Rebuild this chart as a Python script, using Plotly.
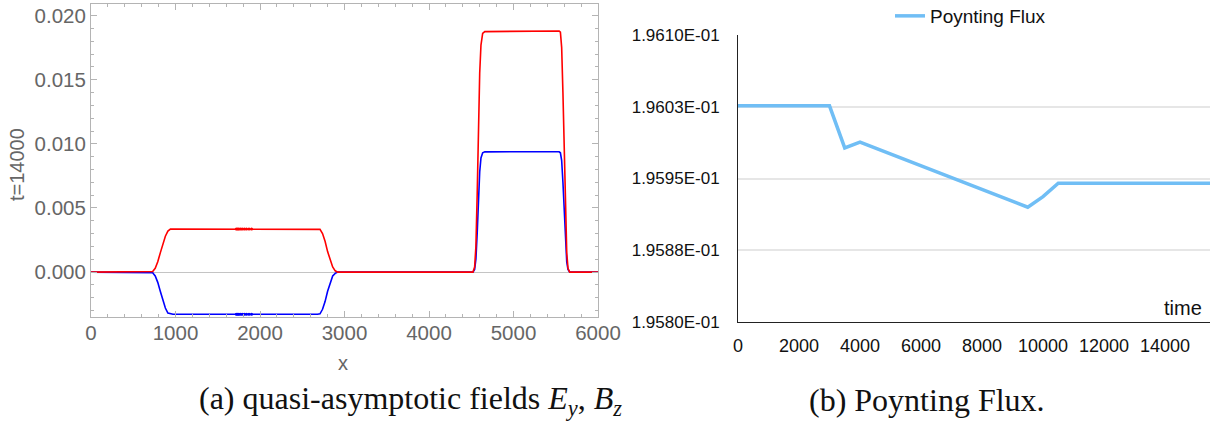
import plotly.graph_objects as go

# ---------------- Left panel data (quasi-asymptotic fields at t=14000) ----------------
x_pos = [0, 700, 730, 760, 790, 820, 850, 880, 910, 940, 970,
         2680, 2710, 2740, 2770, 2800, 2830, 2860, 2890, 2920, 2960,
         4520, 4540, 4555, 4570, 4585, 4600, 4615, 4635, 4660, 4700,
         5540, 5555, 5570, 5585, 5600, 5615, 5630, 5645, 5665, 6000]
ey_vals = [0, 0, 0.00005, 0.0003, 0.0008, 0.0015, 0.0022, 0.0028, 0.0032, 0.00335, 0.00336,
           0.00336, 0.00333, 0.0030, 0.0024, 0.0016, 0.0009, 0.0004, 0.0001, 0.0, 0.0,
           0.0, 0.0004, 0.002, 0.006, 0.011, 0.0155, 0.0177, 0.0186, 0.01875, 0.01875,
           0.0188, 0.0187, 0.0175, 0.014, 0.009, 0.0045, 0.0015, 0.0003, 0.0, 0.0]
bz_vals = [0, 0, -0.00005, -0.0003, -0.0008, -0.0015, -0.0022, -0.0028, -0.0032, -0.00327, -0.00328,
           -0.00328, -0.00325, -0.0029, -0.0023, -0.0015, -0.0008, -0.0003, -0.0001, 0.0, 0.0,
           0.0, 0.0002, 0.001, 0.003, 0.0055, 0.0078, 0.0089, 0.0093, 0.009375, 0.009375,
           0.00938, 0.0093, 0.0087, 0.007, 0.0045, 0.0022, 0.0008, 0.0002, 0.0, 0.0]
glitch_x = [1720, 1735, 1750, 1770, 1790, 1815, 1840, 1870, 1900]
glitch_ey = [0.00336] * 9
glitch_bz = [-0.00328] * 9
field_xticks = [0, 1000, 2000, 3000, 4000, 5000, 6000]
field_yticks = [0.0, 0.005, 0.010, 0.015, 0.020]
field_yticktext = ["0.000", "0.005", "0.010", "0.015", "0.020"]

# ---------------- Right panel data (Poynting flux vs time) ----------------
time_vals = [0, 3000, 3500, 4000, 9500, 10000, 10500, 15500]
flux_vals = [0.196026, 0.196026, 0.195982, 0.195988, 0.195920, 0.195931, 0.195945, 0.195945]
time_ticks = [0, 2000, 4000, 6000, 8000, 10000, 12000, 14000]
time_ticktext = ["0", "2000", "4000", "6000", "8000", "10000", "12000", "14000"]
flux_ticks = [0.19580, 0.195875, 0.19595, 0.196025, 0.19610]
flux_ticktext = ["1.9580E-01", "1.9588E-01", "1.9595E-01", "1.9603E-01", "1.9610E-01"]

W, H = 1213, 421
def px(v):
    return v / W
def py(v):
    return 1 - v / H

GRAY = "#666666"
FRAME = "#b4b4b4"

fig = go.Figure()

fig.add_trace(go.Scatter(x=x_pos, y=bz_vals, mode="lines", name="B_z",
                         line=dict(color="#0000ff", width=1.6), showlegend=False,
                         xaxis="x", yaxis="y"))
fig.add_trace(go.Scatter(x=glitch_x, y=glitch_bz, mode="markers", name="B_z pts",
                         marker=dict(color="#0000ff", size=3), showlegend=False,
                         xaxis="x", yaxis="y"))
fig.add_trace(go.Scatter(x=x_pos, y=ey_vals, mode="lines", name="E_y",
                         line=dict(color="#ff0000", width=1.6), showlegend=False,
                         xaxis="x", yaxis="y"))
fig.add_trace(go.Scatter(x=glitch_x, y=glitch_ey, mode="markers", name="E_y pts",
                         marker=dict(color="#ff0000", size=3), showlegend=False,
                         xaxis="x", yaxis="y"))

fig.add_trace(go.Scatter(x=time_vals, y=flux_vals, mode="lines", name="Poynting Flux",
                         line=dict(color="#70BEF5", width=3.5), showlegend=True,
                         xaxis="x2", yaxis="y2"))

fig.update_layout(
    width=W, height=H,
    margin=dict(l=0, r=0, t=0, b=0, autoexpand=False),
    paper_bgcolor="white", plot_bgcolor="white",
    font=dict(family="Liberation Sans, Arial, sans-serif"),
    xaxis=dict(domain=[px(91), px(598)], range=[0, 6000], automargin=False,
               tickvals=field_xticks, showgrid=False, zeroline=False,
               showline=True, linecolor=FRAME, linewidth=1, mirror="allticks",
               ticks="inside", ticklen=6, tickcolor=FRAME,
               minor=dict(ticks="inside", ticklen=3, dtick=200, tickcolor=FRAME, showgrid=False),
               tickfont=dict(size=20.5, color=GRAY), ticklabelstandoff=-3),
    yaxis=dict(domain=[py(317), py(4)], range=[-0.0035, 0.0209], automargin=False,
               tickvals=field_yticks, ticktext=field_yticktext, showgrid=False,
               zeroline=True, zerolinecolor="#c4c4c4", zerolinewidth=1,
               showline=True, linecolor=FRAME, linewidth=1, mirror="allticks",
               ticks="inside", ticklen=6, tickcolor=FRAME,
               minor=dict(ticks="inside", ticklen=3, dtick=0.001, tickcolor=FRAME, showgrid=False),
               tickfont=dict(size=20.5, color=GRAY), ticklabelstandoff=0),
    xaxis2=dict(domain=[px(738), px(1210)], range=[0, 15475], anchor="y2", automargin=False,
                tickvals=time_ticks, ticktext=time_ticktext, showgrid=False, zeroline=False,
                showline=True, linecolor="#222222", linewidth=1, ticks="",
                tickfont=dict(size=18, color="#111111"), ticklabelstandoff=7),
    yaxis2=dict(domain=[py(322), py(35)], range=[0.19580, 0.19610], anchor="x2", automargin=False,
                tickvals=flux_ticks, ticktext=flux_ticktext,
                showgrid=True, gridcolor="#e6e6e6", gridwidth=1.5, zeroline=False,
                showline=True, linecolor="#222222", linewidth=1, ticks="", ticklen=0,
                tickfont=dict(size=17, color="#111111"), ticklabelstandoff=14),
    legend=dict(x=px(890), y=py(16), xanchor="left", yanchor="middle",
                orientation="h", bgcolor="rgba(0,0,0,0)",
                font=dict(size=19, color="#111111")),
    annotations=[
        dict(text="t=14000", x=px(17), y=py(165), xref="paper", yref="paper",
             xanchor="center", yanchor="middle",
             textangle=-90, showarrow=False, font=dict(size=20, color=GRAY)),
        dict(text="x", x=px(343), y=py(363), xref="paper", yref="paper",
             xanchor="center", yanchor="middle",
             showarrow=False, font=dict(size=20, color=GRAY)),
        dict(text="time", x=px(1204), y=py(308), xref="paper", yref="paper",
             xanchor="right", yanchor="middle", showarrow=False,
             font=dict(size=20, color="#111111")),
        dict(text="(a) quasi-asymptotic fields <i>E</i><sub><i>y</i></sub>, <i>B</i><sub><i>z</i></sub>",
             x=px(410), y=py(400), xref="paper", yref="paper", showarrow=False,
             xanchor="center", yanchor="middle",
             font=dict(family="Liberation Serif, Times New Roman, serif", size=32, color="#111111")),
        dict(text="(b) Poynting Flux.",
             x=px(927), y=py(400), xref="paper", yref="paper", showarrow=False,
             xanchor="center", yanchor="middle",
             font=dict(family="Liberation Serif, Times New Roman, serif", size=32, color="#111111")),
    ],
)

fig.write_html("out.html", config={"displayModeBar": False},
               post_script="document.body.style.margin='0';")
